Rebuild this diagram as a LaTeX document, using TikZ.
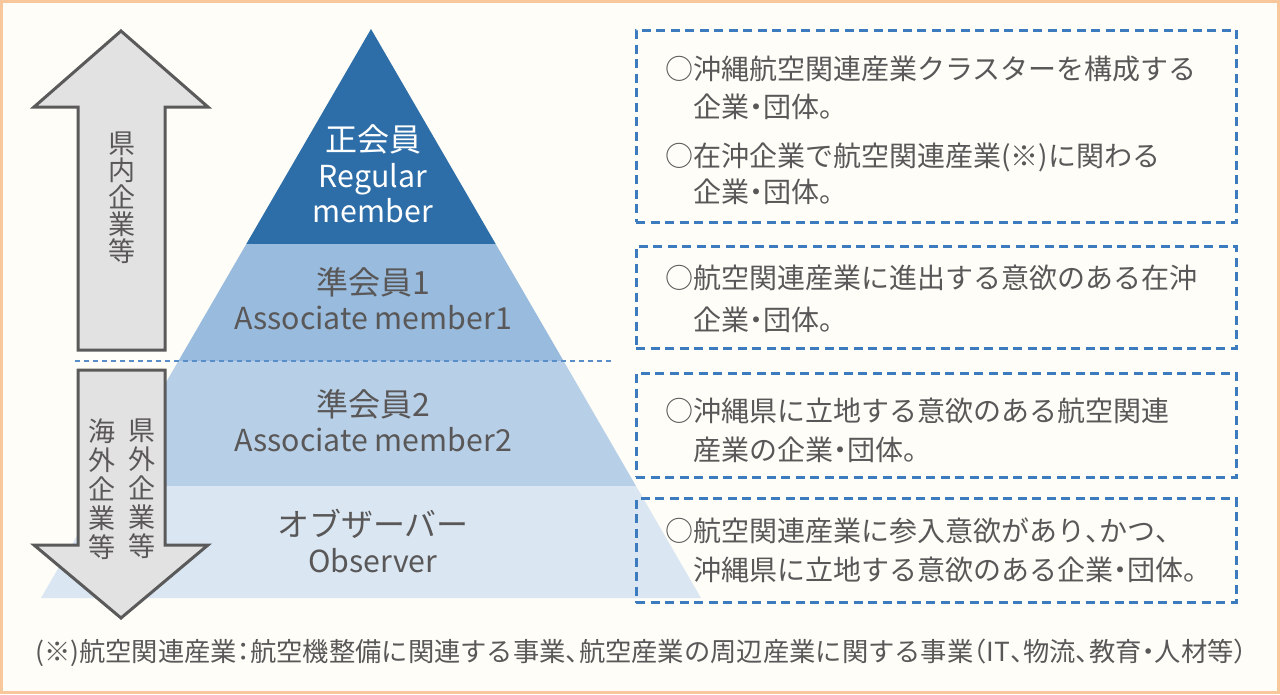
\documentclass[tikz,border=0pt]{standalone}
\usepackage{fontspec}
\setmainfont{Noto Sans CJK JP}
\newfontfamily\jphalf[RawFeature=+halt]{Noto Sans CJK JP}
\newcommand{\hw}[1]{{\jphalf #1}}
\definecolor{bgc}{HTML}{FEFDF8}
\definecolor{brd}{HTML}{F8C79B}
\definecolor{lvA}{HTML}{2E6EA8}
\definecolor{lvB}{HTML}{99BBDD}
\definecolor{lvC}{HTML}{B8D0E7}
\definecolor{lvD}{HTML}{DAE7F3}
\definecolor{dashc}{HTML}{3B7BBE}
\definecolor{arrf}{HTML}{E2E2E2}
\definecolor{arrs}{HTML}{5A5A5A}
\definecolor{txt}{HTML}{595757}
\tikzset{
  arrowshape/.style={draw=arrs, fill=arrf, line width=3pt, line join=miter},
  dbox/.style={draw=dashc, line width=3pt, dash pattern=on 9pt off 5.5pt, rectangle, inner sep=0pt},
  btxt/.style={anchor=base west, inner sep=0pt, text=txt, font=\fontsize{28}{28}\selectfont},
  ptxt/.style={anchor=base, inner sep=0pt, text=txt, font=\fontsize{32}{32}\selectfont},
  ltxt/.style={anchor=base, inner sep=0pt, text=txt, font=\fontsize{30.3}{30}\selectfont},
  wtxt/.style={ptxt, text=white},
  wltxt/.style={ltxt, text=white},
  vtxt/.style={inner sep=0pt, text=txt, align=center}
}
\begin{document}
\begin{tikzpicture}[x=1pt,y=-1pt]
\useasboundingbox (0,0) rectangle (1280,694);
\fill[bgc] (0,0) rectangle (1280,694);
\draw[brd, line width=3pt] (1.5,1.5) rectangle (1278.5,692.5);
% pyramid
\coordinate (apex) at (371,29);
\coordinate (a1) at (246.3,244); \coordinate (a2) at (495.7,244);
\coordinate (b1) at (178.4,361); \coordinate (b2) at (563.6,361);
\coordinate (c1) at (106,486);   \coordinate (c2) at (636,486);
\coordinate (d1) at (41,598);    \coordinate (d2) at (701,598);
\fill[lvA] (apex) -- (a2) -- (a1) -- cycle;
\fill[lvB] (a1) -- (a2) -- (b2) -- (b1) -- cycle;
\fill[lvC] (b1) -- (b2) -- (c2) -- (c1) -- cycle;
\fill[lvD] (c1) -- (c2) -- (d2) -- (d1) -- cycle;
% dashed separator
\coordinate (s1) at (75,361); \coordinate (s2) at (612,361);
\draw[color=dashc!85, line width=1.2pt, dash pattern=on 5pt off 4pt] (s1) -- (s2);
% arrows
\draw[arrowshape] (121,31) -- (208,107) -- (165,107) -- (165,350) -- (78,350) -- (78,107) -- (34,107) -- cycle;
\draw[arrowshape] (78,370) -- (165,370) -- (165,545) -- (208,545) -- (121,618) -- (34,545) -- (78,545) -- cycle;
\node[vtxt, font=\fontsize{27}{27}\selectfont] (up) at (122,198) {県\\内\\企\\業\\等};
\node[vtxt, font=\fontsize{27}{29}\selectfont] (dnR) at (142,489) {県\\外\\企\\業\\等};
\node[vtxt, font=\fontsize{27}{29}\selectfont] (dnL) at (102,489) {海\\外\\企\\業\\等};
% pyramid labels
\node[wtxt] (r1) at (373,151) {正会員};
\node[wltxt] (r2) at (373,187) {Regular};
\node[wltxt] (r3) at (373,222) {member};
\node[ptxt] (p1) at (373,294) {準会員1};
\node[ltxt] (p2) at (373,329) {Associate member1};
\node[ptxt] (q1) at (373,416) {準会員2};
\node[ltxt] (q2) at (373,451) {Associate member2};
\node[ptxt] (o1) at (373,536) {オブザーバー};
\node[ltxt] (o2) at (373,572) {Observer};
% boxes
\node[dbox, minimum width=600pt, minimum height=192pt] (box1) at (936,126) {};
\node[dbox, minimum width=600pt, minimum height=102pt] (box2) at (936,297) {};
\node[dbox, minimum width=600pt, minimum height=104pt] (box3) at (936,425) {};
\node[dbox, minimum width=600pt, minimum height=104pt] (box4) at (936,550.5) {};
\node[btxt] (t11) at (665,79) {○沖縄航空関連産業クラスターを構成する};
\node[btxt] (t12) at (693,117) {企業\hw{・}団体。};
\node[btxt] (t13) at (665,166) {○在沖企業で航空関連産業(※)に関わる};
\node[btxt] (t14) at (693,202) {企業\hw{・}団体。};
\node[btxt] (t21) at (665,288) {○航空関連産業に進出する意欲のある在沖};
\node[btxt] (t22) at (693,330) {企業\hw{・}団体。};
\node[btxt] (t31) at (665,421) {○沖縄県に立地する意欲のある航空関連};
\node[btxt] (t32) at (693,460) {産業の企業\hw{・}団体。};
\node[btxt] (t41) at (665,541) {○航空関連産業に参入意欲があり\hw{、}かつ\hw{、}};
\node[btxt] (t42) at (693,580) {沖縄県に立地する意欲のある企業\hw{・}団体。};
% footer
\node[anchor=base west, inner sep=0pt, text=txt, font=\fontsize{26.3}{26}\selectfont] (foot) at (35,661) {(※)航空関連産業\hw{：}航空機整備に関連する事業\hw{、}航空産業の周辺産業に関する事業\hw{（}IT\hw{、}物流\hw{、}教育\hw{・}人材等\hw{）}};
\end{tikzpicture}
\end{document}
